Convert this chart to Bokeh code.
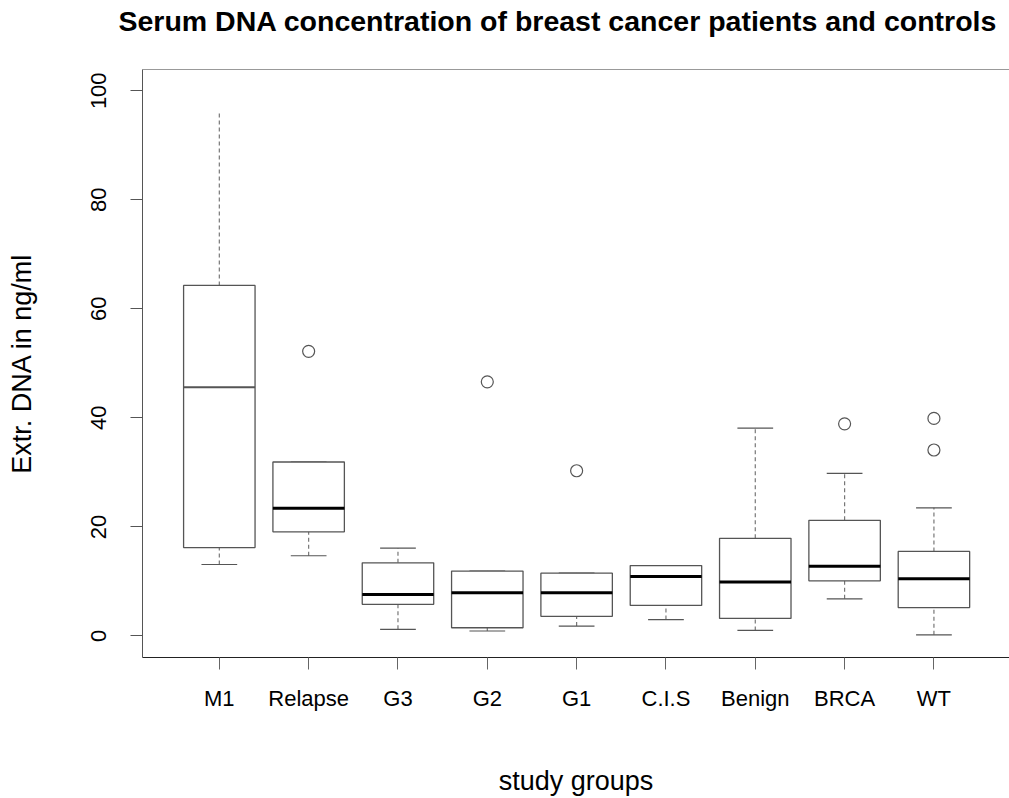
from bokeh.plotting import figure
from bokeh.models import FixedTicker, LinearAxis, Range1d, ColumnDataSource
from bokeh.embed import file_html
from bokeh.resources import INLINE

# Serum DNA (ng/ml) summary statistics per study group
groups = ["M1", "Relapse", "G3", "G2", "G1", "C.I.S", "Benign", "BRCA", "WT"]
lower_whisker = [13.1, 14.7, 1.2, 0.9, 1.8, 3.0, 1.0, 6.8, 0.2]
q1 = [16.2, 19.1, 5.8, 1.5, 3.6, 5.6, 3.2, 10.1, 5.2]
median = [45.6, 23.4, 7.6, 7.9, 7.9, 10.9, 9.9, 12.8, 10.5]
q3 = [64.3, 31.9, 13.4, 11.9, 11.5, 12.9, 17.9, 21.2, 15.5]
upper_whisker = [96.0, 31.9, 16.1, 11.9, 11.5, 12.9, 38.1, 29.8, 23.5]

outlier_group = ["Relapse", "G2", "G1", "BRCA", "WT", "WT"]
outlier_value = [52.2, 46.6, 30.3, 38.9, 39.9, 34.1]

y_ticks = [0, 20, 40, 60, 80, 100]

pos = list(range(1, len(groups) + 1))
half_box = 0.4
half_cap = 0.2

# the M1 median is drawn lighter, and its upper whisker has no cap
med_width = [2 if g == "M1" else 3 for g in groups]
med_color = ["#555555" if g == "M1" else "black" for g in groups]
cap_idx = [i for i, g in enumerate(groups) if g != "M1"]

src = ColumnDataSource(dict(
    x=pos,
    left=[p - half_box for p in pos],
    right=[p + half_box for p in pos],
    cap_l=[p - half_cap for p in pos],
    cap_r=[p + half_cap for p in pos],
    lw=lower_whisker, q1=q1, med=median, q3=q3, uw=upper_whisker,
    mw=med_width, mc=med_color,
))
cap_src = ColumnDataSource(dict(
    cap_l=[pos[i] - half_cap for i in cap_idx],
    cap_r=[pos[i] + half_cap for i in cap_idx],
    uw=[upper_whisker[i] for i in cap_idx],
))
out_src = ColumnDataSource(dict(
    x=[groups.index(g) + 1 for g in outlier_group],
    y=outlier_value,
))

FONT = "Liberation Sans"
BOX = "#555555"

p = figure(
    width=1009, height=798,
    x_range=Range1d(0.14, 9.846), y_range=Range1d(-3.96, 103.9),
    output_backend="svg", toolbar_location=None,
    min_border_left=142, min_border_right=0,
    min_border_top=69, min_border_bottom=140,
    x_axis_location=None, y_axis_location=None,
)
p.outline_line_color = None
p.xgrid.visible = False
p.ygrid.visible = False
p.background_fill_color = "white"
p.border_fill_color = "white"

# whiskers (dashed) and caps
p.segment(x0="x", x1="x", y0="q3", y1="uw", source=src,
          line_color="#777777", line_width=1.2, line_dash="4 3")
p.segment(x0="x", x1="x", y0="lw", y1="q1", source=src,
          line_color="#777777", line_width=1.2, line_dash="4 3")
p.segment(x0="cap_l", x1="cap_r", y0="uw", y1="uw", source=cap_src,
          line_color=BOX, line_width=1.2)
p.segment(x0="cap_l", x1="cap_r", y0="lw", y1="lw", source=src,
          line_color=BOX, line_width=1.2)

# boxes and medians
p.quad(left="left", right="right", bottom="q1", top="q3", source=src,
       fill_color="white", line_color=BOX, line_width=1.3)
p.segment(x0="left", x1="right", y0="med", y1="med", source=src,
          line_color="mc", line_width="mw")

# outliers
p.scatter(x="x", y="y", source=out_src, marker="circle", size=12,
          fill_color=None, line_color="#555555", line_width=1.2)

# axes
xaxis = LinearAxis(
    ticker=FixedTicker(ticks=pos),
    major_label_overrides={i + 1: g for i, g in enumerate(groups)},
    axis_label="study groups",
)
yaxis = LinearAxis(
    ticker=FixedTicker(ticks=y_ticks),
    axis_label="Extr. DNA in ng/ml",
)
for ax, tick_col in ((xaxis, "#666666"), (yaxis, "#555555")):
    ax.minor_tick_line_color = None
    ax.major_tick_in = 0
    ax.major_tick_out = 12
    ax.major_tick_line_color = tick_col
    ax.major_label_text_font = FONT
    ax.major_label_text_font_size = "22px"
    ax.major_label_text_color = "black"
    ax.axis_label_text_font = FONT
    ax.axis_label_text_font_size = "27px"
    ax.axis_label_text_font_style = "normal"
    ax.axis_label_text_color = "black"

xaxis.axis_line_color = "#222222"
xaxis.major_label_standoff = 16
xaxis.axis_label_standoff = 52
yaxis.axis_line_color = "#555555"
yaxis.major_label_orientation = "vertical"
yaxis.major_label_standoff = 24
yaxis.axis_label_standoff = 52

# top edge of the plotting box; its blank label keeps the title clear of it
top_edge = LinearAxis(ticker=FixedTicker(ticks=[]), axis_label=" ")
top_edge.axis_line_color = "#999999"
top_edge.major_tick_line_color = None
top_edge.minor_tick_line_color = None
top_edge.major_label_text_font_size = "0px"
top_edge.axis_label_text_font = FONT
top_edge.axis_label_text_font_size = "27px"
top_edge.axis_label_standoff = 0

p.add_layout(xaxis, "below")
p.add_layout(yaxis, "left")
p.add_layout(top_edge, "above")

p.title.text = "Serum DNA concentration of breast cancer patients and controls"
p.title.text_font = FONT
p.title.text_font_size = "28.5px"
p.title.text_font_style = "bold"
p.title.align = "left"
p.title.offset = -24
p.title.standoff = 0
p.title.text_color = "black"

open("out.html", "w").write(file_html(p, INLINE))
